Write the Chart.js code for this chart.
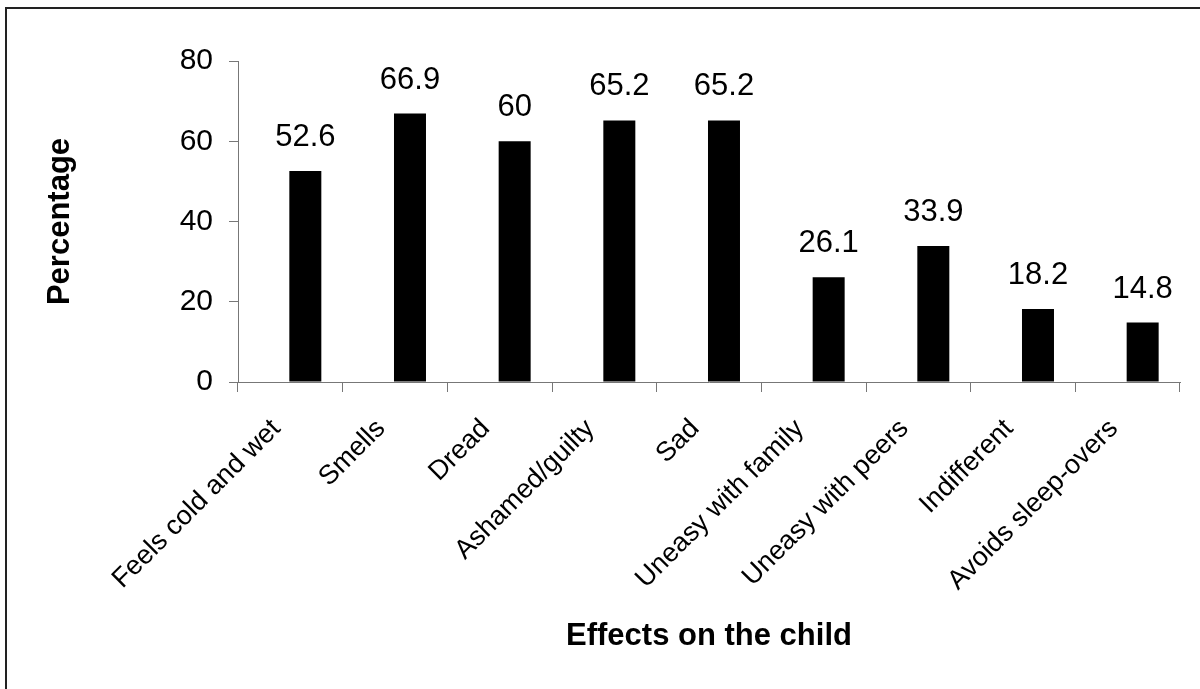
<!DOCTYPE html>
<html>
<head>
<meta charset="utf-8">
<script src="https://cdn.jsdelivr.net/npm/chart.js@4.4.1/dist/chart.umd.min.js"></script>
<style>
  html, body { margin: 0; padding: 0; background: #fff; }
  canvas { display: block; }
</style>
</head>
<body>
<canvas id="bar-chart" width="1200" height="689"></canvas>
<script>
var categories = ["Feels cold and wet", "Smells", "Dread", "Ashamed/guilty", "Sad",
	"Uneasy with family", "Uneasy with peers", "Indifferent", "Avoids sleep-overs"];
var percentages = [52.6, 66.9, 60, 65.2, 65.2, 26.1, 33.9, 18.2, 14.8];
// the source chart has an empty series in front, which pushes each bar right of its slot centre
var emptySeries = [null, null, null, null, null, null, null, null, null];
var yTicks = [0, 20, 40, 60, 80];

var FONT = "'Liberation Sans', Arial, sans-serif";

// thin frame along the top and left edge, like the source image
var framePlugin = {
	id: "frame",
	beforeDraw: function(chart) {
		var c = chart.ctx;
		c.save();
		c.fillStyle = "#fff";
		c.fillRect(0, 0, chart.width, chart.height);
		c.strokeStyle = "#222";
		c.lineWidth = 2;
		c.beginPath();
		c.moveTo(6, chart.height);
		c.lineTo(6, 8);
		c.lineTo(chart.width, 8);
		c.stroke();
		c.restore();
	}
};

// value printed above each bar
var valueLabels = {
	id: "valueLabels",
	afterDatasetsDraw: function(chart) {
		var c = chart.ctx;
		var meta = chart.getDatasetMeta(1);
		c.save();
		c.font = "31px " + FONT;
		c.fillStyle = "#000";
		c.textAlign = "center";
		c.textBaseline = "alphabetic";
		meta.data.forEach(function(bar, i) {
			c.fillText(String(percentages[i]), bar.x, bar.y - 25);
		});
		c.restore();
	}
};

var data = {
	labels: categories,
	datasets: [{
		label: "",
		data: emptySeries,
		backgroundColor: "#000",
		borderWidth: 0,
		categoryPercentage: 0.573,
		barPercentage: 1.067
	}, {
		label: "Percentage",
		data: percentages,
		backgroundColor: "#000",
		borderWidth: 0,
		categoryPercentage: 0.573,
		barPercentage: 1.067
	}]
};

var options = {
	responsive: false,
	animation: false,
	layout: { padding: { left: 30, right: 20, top: 61, bottom: 20 } },
	plugins: {
		legend: { display: false },
		tooltip: { enabled: false }
	},
	scales: {
		x: {
			grid: {
				offset: true,
				drawOnChartArea: false,
				tickLength: 10,
				color: "#777",
				lineWidth: 1
			},
			border: { color: "#777", width: 1 },
			ticks: {
				color: "#000",
				font: { family: FONT, size: 27 },
				minRotation: 45,
				maxRotation: 45,
				autoSkip: false,
				padding: 21,
				labelOffset: -14
			},
			title: {
				display: true,
				text: "Effects on the child",
				color: "#000",
				font: { family: FONT, size: 31, weight: "bold" },
				padding: { top: 0, bottom: 14 }
			},
			afterFit: function(scale) { scale.height = 689 - 382 - 20; }
		},
		y: {
			min: 0,
			max: 80,
			afterBuildTicks: function(scale) {
				scale.ticks = yTicks.map(function(v) { return { value: v }; });
			},
			grid: {
				drawOnChartArea: false,
				tickLength: 9,
				color: "#777",
				lineWidth: 1
			},
			border: { color: "#777", width: 1 },
			ticks: {
				color: "#000",
				font: { family: FONT, size: 30 },
				padding: 16
			},
			title: {
				display: true,
				text: "Percentage",
				color: "#000",
				font: { family: FONT, size: 31, weight: "bold" },
				padding: { top: 12, bottom: 0 }
			},
			afterFit: function(scale) { scale.width = 238 - 30; }
		}
	}
};

var chart = new Chart(document.getElementById("bar-chart"), {
	type: "bar",
	data: data,
	options: options,
	plugins: [framePlugin, valueLabels]
});
</script>
</body>
</html>
